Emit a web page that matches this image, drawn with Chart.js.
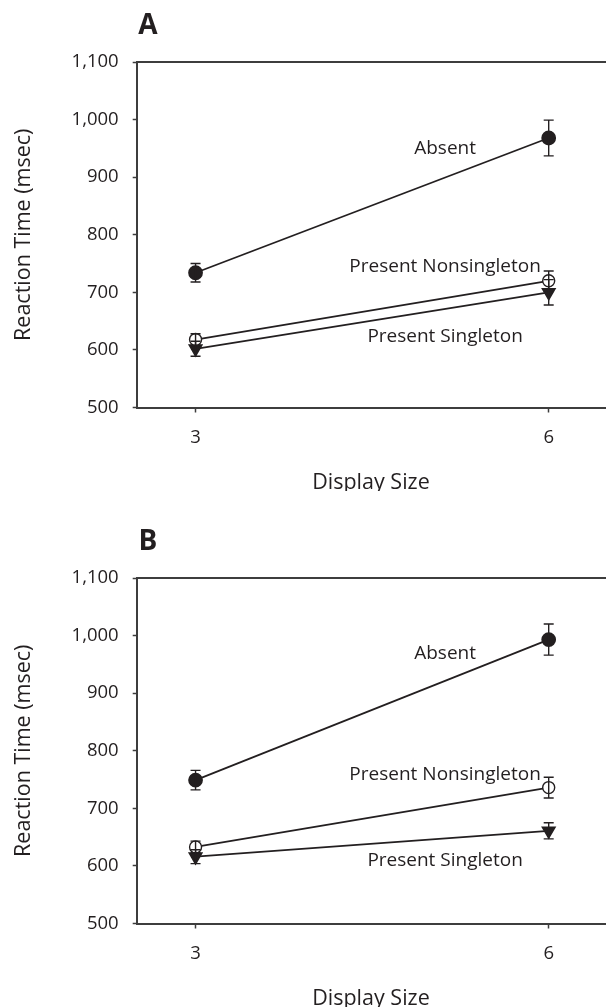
<!DOCTYPE html>
<html>
<head>
<meta charset="utf-8">
<script src="https://cdn.jsdelivr.net/npm/chart.js@4.4.1/dist/chart.umd.min.js"></script>
<style>
html,body{margin:0;padding:0;background:#fff;overflow:hidden}
.panel{position:absolute;left:0;width:614px;height:491px}
</style>
</head>
<body>
<div class="panel" style="top:0"><canvas id="chartA"></canvas></div>
<div class="panel" style="top:516px"><canvas id="chartB"></canvas></div>
<script>
// x categories and y ticks
const displaySizes = [3, 6]
const yTicks = [500, 600, 700, 800, 900, 1000, 1100]

// panel A (msec, mean and error bar half-length)
const absentA = [734, 968]
const absentErrA = [16, 31]
const nonsingA = [618, 720]
const nonsingErrA = [10, 17]
const singA = [602, 700]
const singErrA = [13, 22]

// panel B
const absentB = [749, 993]
const absentErrB = [17, 27]
const nonsingB = [633, 736]
const nonsingErrB = [10, 18]
const singB = [616, 661]
const singErrB = [12, 14]

// line label anchors (data coords)
const labelsA = [['Absent', 5.12, 950], ['Present Nonsingleton', 5.12, 744], ['Present Singleton', 5.12, 624]]
const labelsB = [['Absent', 5.12, 969], ['Present Nonsingleton', 5.12, 759], ['Present Singleton', 5.12, 610]]

const ink = '#231f20'
const axisCol = '#3d3d3d'
const fam = "'Open Sans', sans-serif"

const errorBars = {
    id: 'errorBars',
    afterDatasetsDraw(chart) {
        const ctx = chart.ctx
        const ys = chart.scales.y
        ctx.save()
        ctx.strokeStyle = ink
        ctx.lineWidth = 1.4
        chart.data.datasets.forEach((ds, di) => {
            const meta = chart.getDatasetMeta(di)
            meta.data.forEach((pt, i) => {
                const top = ys.getPixelForValue(ds.data[i].y + ds.err[i])
                const bot = ys.getPixelForValue(ds.data[i].y - ds.err[i])
                ctx.beginPath()
                ctx.moveTo(pt.x, top); ctx.lineTo(pt.x, bot)
                ctx.moveTo(pt.x - 5, top); ctx.lineTo(pt.x + 5, top)
                ctx.moveTo(pt.x - 5, bot); ctx.lineTo(pt.x + 5, bot)
                ctx.stroke()
            })
        })
        ctx.restore()
    }
}

const textMarks = {
    id: 'textMarks',
    afterDraw(chart, args, opts) {
        const ctx = chart.ctx
        ctx.save()
        ctx.fillStyle = ink
        ctx.textAlign = 'center'
        ctx.textBaseline = 'middle'
        ctx.font = '19px ' + fam
        opts.labels.forEach(l => {
            ctx.fillText(l[0], chart.scales.x.getPixelForValue(l[1]), chart.scales.y.getPixelForValue(l[2]))
        })
        ctx.font = 'bold 28px ' + fam
        ctx.fillText(opts.letter, 148, 26)
        ctx.restore()
    }
}

function pts(vals){
    return vals.map((v, i) => ({x: displaySizes[i], y: v}))
}

function makePanel(id, letter, absent, absentErr, nonsing, nonsingErr, sing, singErr, labels){
    const tickFont = {family: fam, size: 18.5}
    new Chart(document.getElementById(id), {
        type: 'line',
        data: {
            datasets: [
                {data: pts(absent), err: absentErr, borderColor: ink, borderWidth: 1.8,
                 pointStyle: 'circle', pointRadius: 6.5, pointBackgroundColor: ink, pointBorderColor: ink},
                {data: pts(nonsing), err: nonsingErr, borderColor: ink, borderWidth: 1.8,
                 pointStyle: 'circle', pointRadius: 6, pointBackgroundColor: '#fff', pointBorderColor: ink, pointBorderWidth: 1.4},
                {data: pts(sing), err: singErr, borderColor: ink, borderWidth: 1.8,
                 pointStyle: 'triangle', pointRotation: 180, pointRadius: 7, pointBackgroundColor: ink, pointBorderColor: ink}
            ]
        },
        options: {
            responsive: false,
            animation: false,
            layout: {padding: {top: 62, left: 0, right: 0, bottom: 0}},
            plugins: {
                legend: {display: false},
                tooltip: {enabled: false},
                textMarks: {letter: letter, labels: labels}
            },
            scales: {
                x: {
                    type: 'linear', position: 'bottom', min: 2.5, max: 6.48,
                    afterBuildTicks: s => { s.ticks = displaySizes.map(v => ({value: v})) },
                    afterFit: s => { s.height = 83.5 },
                    grid: {drawOnChartArea: false, drawTicks: true, tickLength: 5, color: axisCol, tickWidth: 1.5},
                    border: {display: true, color: axisCol, width: 2},
                    ticks: {font: tickFont, color: ink, padding: 14},
                    title: {display: true, text: 'Display Size', color: ink,
                            font: {family: fam, size: 21.5, lineHeight: 0.75}, padding: 0}
                },
                x2: {
                    type: 'linear', position: 'top', min: 2.5, max: 6.48,
                    afterFit: s => { s.height = 0 },
                    grid: {display: false},
                    border: {display: true, color: axisCol, width: 2},
                    ticks: {display: false}
                },
                y: {
                    min: 500, max: 1100,
                    afterBuildTicks: s => { s.ticks = yTicks.map(v => ({value: v})) },
                    afterFit: s => { s.width = 136.7 },
                    grid: {drawOnChartArea: false, drawTicks: true, tickLength: 4, color: axisCol, tickWidth: 1.5},
                    border: {display: true, color: axisCol, width: 2},
                    ticks: {font: tickFont, color: ink, padding: 14,
                            callback: v => v.toLocaleString('en-US')},
                    title: {display: true, text: 'Reaction Time (msec)', color: ink,
                            font: {family: fam, size: 21.5, lineHeight: 1.2}, padding: {top: 11, bottom: 0}}
                }
            }
        },
        plugins: [errorBars, textMarks]
    })
}

document.getElementById('chartA').width = 614
document.getElementById('chartA').height = 491
document.getElementById('chartB').width = 614
document.getElementById('chartB').height = 491
makePanel('chartA', 'A', absentA, absentErrA, nonsingA, nonsingErrA, singA, singErrA, labelsA)
makePanel('chartB', 'B', absentB, absentErrB, nonsingB, nonsingErrB, singB, singErrB, labelsB)
</script>
</body>
</html>
